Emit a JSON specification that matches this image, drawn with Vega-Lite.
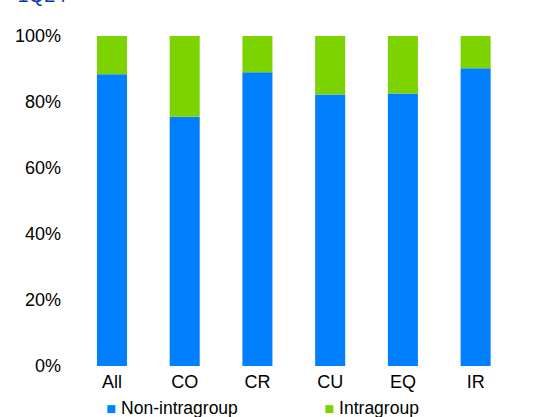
{
  "$schema": "https://vega.github.io/schema/vega-lite/v6.json",
  "autosize": {"type": "none"},
  "padding": {"left": 75.6, "top": 36, "right": 46, "bottom": 51},
  "width": 436.4,
  "height": 330,
  "title": {"text": "1Q24", "anchor": "start", "fontSize": 20, "font": "Liberation Sans", "fontWeight": "normal", "color": "#0a3aa8", "offset": 5, "dx": 3, "baseline": "alphabetic"},
  "config": {
    "view": {"stroke": null},
    "font": "Liberation Sans",
    "axis": {"labelFont": "Liberation Sans", "labelFontSize": 18, "labelColor": "#000000", "domain": false, "ticks": false, "grid": false, "title": null},
    "legend": {"labelFont": "Liberation Sans", "labelFontSize": 17.5, "labelColor": "#000000"}
  },
  "data": {"values": [
    {"cat": "All", "group": "Non-intragroup", "value": 0.884},
    {"cat": "All", "group": "Intragroup", "value": 0.116},
    {"cat": "CO", "group": "Non-intragroup", "value": 0.755},
    {"cat": "CO", "group": "Intragroup", "value": 0.245},
    {"cat": "CR", "group": "Non-intragroup", "value": 0.890},
    {"cat": "CR", "group": "Intragroup", "value": 0.110},
    {"cat": "CU", "group": "Non-intragroup", "value": 0.823},
    {"cat": "CU", "group": "Intragroup", "value": 0.177},
    {"cat": "EQ", "group": "Non-intragroup", "value": 0.826},
    {"cat": "EQ", "group": "Intragroup", "value": 0.174},
    {"cat": "IR", "group": "Non-intragroup", "value": 0.902},
    {"cat": "IR", "group": "Intragroup", "value": 0.098}
  ]},
  "mark": {"type": "bar"},
  "encoding": {
    "x": {"field": "cat", "type": "nominal", "sort": null,
          "scale": {"paddingInner": 0.587, "paddingOuter": 0.2935},
          "axis": {"labelAngle": 0, "labelPadding": 7}},
    "y": {"field": "value", "type": "quantitative", "stack": "zero",
          "scale": {"domain": [0, 1], "nice": false},
          "axis": {"format": ".0%", "values": [0, 0.2, 0.4, 0.6, 0.8, 1], "labelPadding": 15}},
    "color": {"field": "group", "type": "nominal",
              "scale": {"domain": ["Non-intragroup", "Intragroup"], "range": ["#0080ff", "#7dd300"]},
              "legend": {"title": null, "orient": "none", "legendX": 27, "legendY": 364, "direction": "horizontal", "columns": 2, "columnPadding": 82, "symbolType": "square", "symbolSize": 64, "labelOffset": 1, "symbolStrokeWidth": 0}},
    "order": {"field": "group", "sort": "descending"}
  }
}
